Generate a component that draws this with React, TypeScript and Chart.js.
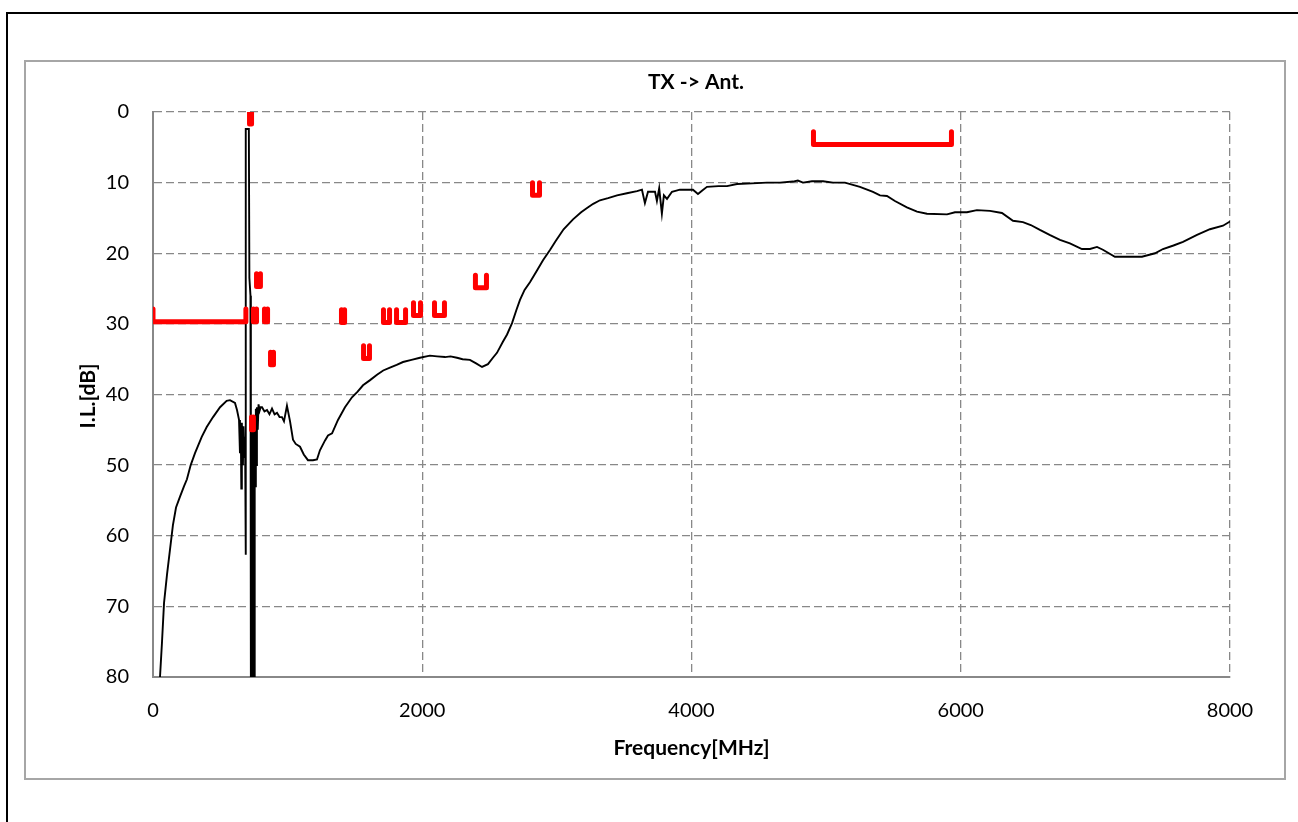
import React, { useEffect, useRef } from "react";
import { Chart, registerables } from "chart.js";

Chart.register(...registerables);

// Measured insertion loss (TX -> Ant.)
const freqMHz = [
  52, 67, 82, 104, 126, 148, 171, 200, 230, 252, 280, 312, 362, 399, 446, 498, 547, 572, 609, 624,
  639, 646, 652, 656, 660, 664, 668, 672, 678, 684, 688, 690, 712, 716, 724, 727, 730, 733, 736, 739,
  742, 745, 748, 751, 754, 757, 760, 764, 768, 772, 778, 784, 792, 800, 810, 828, 847, 865, 884, 903,
  921, 940, 958, 973, 995, 1018, 1040, 1060, 1092, 1120, 1151, 1188, 1218, 1240, 1278, 1300, 1330, 1374, 1426, 1478,
  1520, 1560, 1610, 1664, 1710, 1760, 1810, 1857, 1920, 1983, 2057, 2110, 2169, 2210, 2258, 2300, 2354, 2400, 2444, 2488,
  2525, 2555, 2600, 2630, 2667, 2700, 2726, 2760, 2800, 2850, 2897, 2950, 2990, 3050, 3120, 3180, 3224, 3270, 3320, 3380,
  3447, 3520, 3595, 3632, 3654, 3677, 3729, 3743, 3760, 3780, 3795, 3818, 3855, 3914, 4011, 4048, 4080, 4115, 4200, 4264,
  4338, 4450, 4560, 4657, 4754, 4790, 4828, 4895, 4977, 5051, 5140, 5251, 5348, 5400, 5452, 5511, 5600, 5675, 5749, 5898,
  5957, 6046, 6120, 6217, 6306, 6388, 6462, 6520, 6588, 6660, 6737, 6811, 6900, 6960, 7012, 7056, 7145, 7250, 7346, 7443,
  7502, 7580, 7651, 7755, 7851, 7948, 8000,
];
const insertionLossDb = [
  80, 75, 69.5, 65.5, 62, 58.5, 56, 54.5, 53, 52, 50, 48.3, 46, 44.6, 43.2, 41.8, 40.9, 40.8, 41.2, 42.2,
  43.6, 48.3, 44.5, 53.3, 44, 47, 50, 44.5, 49, 46, 62.7, 2.4, 2.4, 23.5, 26, 80, 47, 80, 45, 80,
  48, 80, 44, 80, 53, 43, 53, 42, 50, 41.8, 45, 41.4, 42.3, 41.8, 41.8, 42.4, 42.2, 42.8, 42.0, 42.8,
  42.6, 43.2, 43.2, 43.8, 41.6, 43.8, 46.4, 47, 47.4, 48.5, 49.3, 49.3, 49.2, 47.9, 46.5, 45.8, 45.5, 43.6, 41.8, 40.4,
  39.6, 38.7, 38.0, 37.2, 36.6, 36.2, 35.8, 35.4, 35.1, 34.8, 34.5, 34.6, 34.7, 34.6, 34.8, 35.0, 35.1, 35.6, 36.1, 35.7,
  34.8, 34.1, 32.5, 31.5, 29.9, 28.0, 26.6, 25.2, 24.1, 22.5, 21.0, 19.5, 18.3, 16.6, 15.2, 14.2, 13.6, 13.0, 12.5, 12.2,
  11.8, 11.5, 11.2, 11.0, 12.9, 11.3, 11.3, 12.6, 10.8, 14.4, 11.8, 12.3, 11.3, 11.0, 11.0, 11.6, 11.1, 10.6, 10.5, 10.5,
  10.2, 10.1, 10.0, 10.0, 9.85, 9.7, 10.0, 9.8, 9.8, 10.0, 10.0, 10.6, 11.3, 11.8, 11.9, 12.6, 13.5, 14.1, 14.4, 14.5,
  14.2, 14.2, 13.9, 14.0, 14.3, 15.4, 15.6, 16.0, 16.7, 17.4, 18.1, 18.6, 19.4, 19.4, 19.1, 19.5, 20.5, 20.5, 20.5, 20.0,
  19.4, 18.9, 18.4, 17.4, 16.6, 16.1, 15.5,
];

// Specification brackets (red)
const specStartMHz = [0, 717, 732, 746, 828, 769, 873, 1400, 1564, 1712, 1809, 1935, 2091, 2395, 2819, 4906];
const specEndMHz = [690, 732, 746, 769, 851, 798, 895, 1423, 1608, 1757, 1876, 1987, 2165, 2477, 2871, 5931];
const specLevelDb = [29.7, 1.7, 45.0, 29.7, 29.7, 24.7, 35.8, 29.8, 34.9, 29.8, 29.8, 28.8, 28.8, 24.9, 11.8, 4.6];
const specTickDb = 1.8;

const xTickValues = [0, 2000, 4000, 6000, 8000];
const yTickValues = [0, 10, 20, 30, 40, 50, 60, 70, 80];

const chartTitle = "TX -> Ant.";
const xAxisTitle = "Frequency[MHz]";
const yAxisTitle = "I.L.[dB]";

const FONT = "Lato, 'Open Sans', sans-serif";

export default function App() {
  const canvasRef = useRef<HTMLCanvasElement | null>(null);

  useEffect(() => {
    if (!canvasRef.current) return;

    const curve = freqMHz.map((f, i) => ({ x: f, y: insertionLossDb[i] }));
    const specSets = specStartMHz.map((s, i) => ({
      label: "spec" + i,
      data: [
        { x: s, y: specLevelDb[i] - specTickDb },
        { x: s, y: specLevelDb[i] },
        { x: specEndMHz[i], y: specLevelDb[i] },
        { x: specEndMHz[i], y: specLevelDb[i] - specTickDb },
      ],
      borderColor: "#ff0000",
      backgroundColor: "#ff0000",
      borderWidth: 5,
      borderCapStyle: "round" as const,
      borderJoinStyle: "round" as const,
      pointRadius: 0,
      tension: 0,
      fill: false,
      order: 0,
    }));

    const textPlugin = {
      id: "textPlugin",
      afterDraw(chart: any) {
        const { ctx, chartArea } = chart;
        ctx.save();
        ctx.fillStyle = "#000";
        ctx.textAlign = "center";
        ctx.textBaseline = "middle";
        ctx.font = `bold 21px ${FONT}`;
        ctx.fillText(chartTitle, 670, 20);
        ctx.fillText(xAxisTitle, (chartArea.left + chartArea.right) / 2, 686);
        ctx.translate(62, 334);
        ctx.rotate(-Math.PI / 2);
        ctx.fillText(yAxisTitle, 0, 0);
        ctx.restore();
      },
    };

    const chart = new Chart(canvasRef.current, {
      type: "line",
      data: {
        datasets: [
          ...specSets,
          {
            label: "I.L.",
            data: curve,
            borderColor: "#000000",
            borderWidth: 1.9,
            pointRadius: 0,
            tension: 0,
            fill: false,
            order: 1,
          } as any,
        ],
      },
      options: {
        animation: false,
        responsive: true,
        maintainAspectRatio: false,
        layout: { padding: { left: 0, right: 54, top: 50, bottom: 0 } },
        plugins: {
          legend: { display: false },
          tooltip: { enabled: false },
          title: { display: false },
        },
        scales: {
          x: {
            type: "linear",
            min: 0,
            max: 8000,
            afterFit: (scale: any) => {
              scale.height = 101;
            },
            afterBuildTicks: (scale: any) => {
              scale.ticks = xTickValues.map((v) => ({ value: v }));
            },
            ticks: {
              font: { family: FONT, size: 20 },
              color: "#000",
              padding: 22,
              maxRotation: 0,
              callback: (v: any) => String(v),
            },
            grid: {
              color: "#888888",
              lineWidth: 1.3,
              drawTicks: false,
            },
            border: { display: true, color: "#888888", width: 2, dash: [8, 4] },
          },
          y: {
            type: "linear",
            min: 0,
            max: 80,
            reverse: true,
            afterFit: (scale: any) => {
              scale.width = 127;
            },
            afterBuildTicks: (scale: any) => {
              scale.ticks = yTickValues.map((v) => ({ value: v }));
            },
            ticks: {
              font: { family: FONT, size: 20 },
              color: "#000",
              padding: 24,
              callback: (v: any) => String(v),
            },
            grid: {
              color: "#888888",
              lineWidth: 1.3,
              drawTicks: false,
            },
            border: { display: true, color: "#888888", width: 2, dash: [8, 4] },
          },
        },
      },
      plugins: [textPlugin],
    });

    return () => chart.destroy();
  }, []);

  return (
    <div
      style={{
        position: "fixed",
        left: 0,
        top: 0,
        width: 1298,
        height: 822,
        overflow: "hidden",
        background: "#fff",
      }}
    >
      <div
        style={{
          position: "absolute",
          left: 6,
          top: 12,
          width: 1320,
          height: 840,
          border: "2px solid #000",
          boxSizing: "border-box",
        }}
      />
      <div
        style={{
          position: "absolute",
          left: 24,
          top: 60,
          width: 1262,
          height: 720,
          border: "2px solid #a6a6a6",
          boxSizing: "border-box",
        }}
      />
      <div
        style={{
          position: "absolute",
          left: 26,
          top: 62,
          width: 1258,
          height: 716,
        }}
      >
        <canvas ref={canvasRef} />
      </div>
    </div>
  );
}
